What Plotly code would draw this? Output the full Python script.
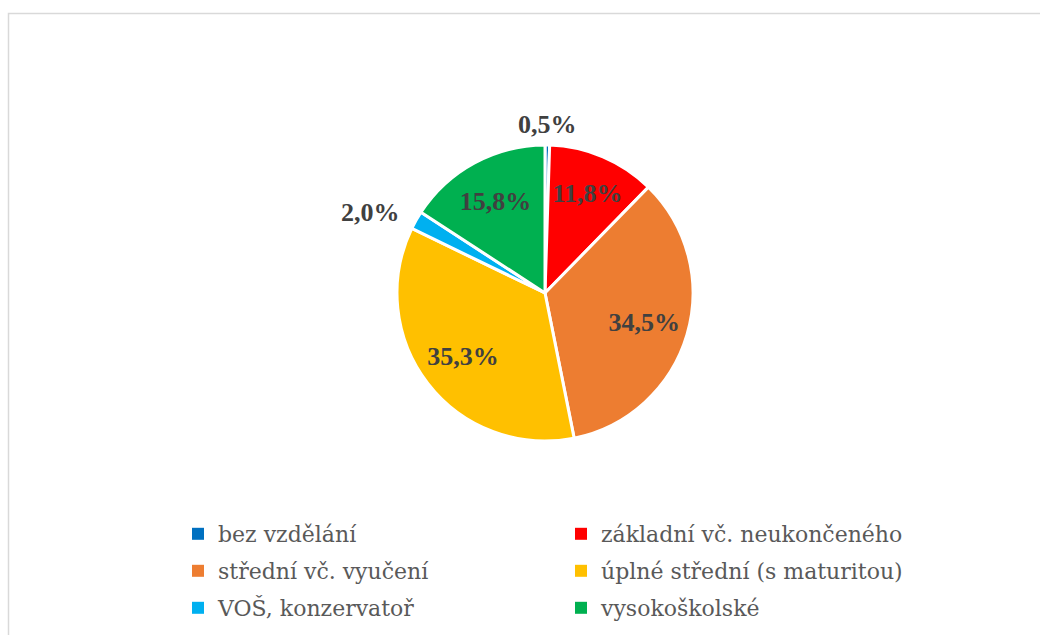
import math
import plotly.graph_objects as go

categories = ["bez vzdělání", "základní vč. neukončeného", "střední vč. vyučení",
              "úplné střední (s maturitou)", "VOŠ, konzervatoř", "vysokoškolské"]
values = [0.5, 11.8, 34.5, 35.3, 2.0, 15.8]
colors = ["#0070C0", "#FF0000", "#ED7D31", "#FFC000", "#00B0F0", "#00B050"]
label_outside = [True, False, False, False, True, False]

W, H = 1040, 635
cx, cy, r = 545, 293, 148
dom = dict(x=[(cx - r) / W, (cx + r) / W], y=[1 - (cy + r) / H, 1 - (cy - r) / H])
tiny = dict(x=[cx / W - 0.002, cx / W + 0.002], y=[1 - cy / H - 0.003, 1 - cy / H + 0.003])
lblfont = dict(family="Liberation Serif", size=26, color="#404040", weight="bold")

fig = go.Figure()

# legend carriers: one row (two categories) per legend, hidden behind the main pie
legend_names = ["legend", "legend2", "legend3"]
for row, lg in enumerate(legend_names):
    idx = [2 * row, 2 * row + 1]
    fig.add_trace(go.Pie(
        labels=[categories[i] for i in idx], values=[values[i] for i in idx],
        sort=False, marker=dict(colors=[colors[i] for i in idx]),
        textinfo="none", hoverinfo="skip", domain=tiny, legend=lg, showlegend=True,
    ))

# coloured slices
fig.add_trace(go.Pie(
    labels=categories, values=values, sort=False, direction="clockwise", rotation=0,
    marker=dict(colors=colors, line=dict(color="white", width=3)),
    textinfo="none", hoverinfo="label+value", domain=dom, showlegend=False,
))
# transparent overlay carrying the inside data labels (ring places labels at ~0.7 r, like Excel)
fig.add_trace(go.Pie(
    labels=categories, values=values, sort=False, direction="clockwise", rotation=0,
    hole=0.4, showlegend=False,
    marker=dict(colors=["rgba(0,0,0,0)"] * len(values), line=dict(width=0)),
    texttemplate="%{value:.1f}%",
    textposition=["none" if o else "inside" for o in label_outside],
    insidetextorientation="horizontal",
    textfont=lblfont, insidetextfont=lblfont,
    hoverinfo="skip", domain=dom,
))

# outside data labels for the thin slices, placed just beyond the slice mid-angle
annotations = []
total = sum(values)
cum = 0.0
for v, out in zip(values, label_outside):
    theta = 2 * math.pi * (cum + v / 2) / total
    cum += v
    if not out:
        continue
    s, c = math.sin(theta), math.cos(theta)
    off = r + 4 + 14 * abs(s)
    px = cx + off * s
    py = cy - off * c
    xa = "center" if abs(s) < 0.3 else ("left" if s > 0 else "right")
    ya = "bottom" if c > 0.7 else ("top" if c < -0.7 else "middle")
    annotations.append(dict(
        x=px / W, y=1 - py / H, xref="paper", yref="paper",
        xanchor=xa, yanchor=ya, showarrow=False,
        text=f"{v:.1f}%".replace(".", ","), font=lblfont,
    ))

legend_tops = [513, 550, 587]
legend_common = dict(
    orientation="h", x=178 / W, xanchor="left", yanchor="top",
    entrywidth=338, entrywidthmode="pixels",
    font=dict(family="DejaVu Serif", size=22, color="#595959"),
    bgcolor="rgba(0,0,0,0)",
)

fig.update_layout(
    width=W, height=H,
    margin=dict(l=0, r=0, t=0, b=0),
    paper_bgcolor="white",
    plot_bgcolor="white",
    separators=", ",
    showlegend=True,
    legend=dict(legend_common, y=1 - legend_tops[0] / H),
    legend2=dict(legend_common, y=1 - legend_tops[1] / H),
    legend3=dict(legend_common, y=1 - legend_tops[2] / H),
    annotations=annotations,
    shapes=[dict(type="rect", xref="paper", yref="paper",
                 x0=8.5 / W, x1=1.02, y0=-0.02, y1=1 - 13.5 / H,
                 line=dict(color="#D9D9D9", width=1.5), fillcolor="rgba(0,0,0,0)")],
)

fig.write_html("out.html")
